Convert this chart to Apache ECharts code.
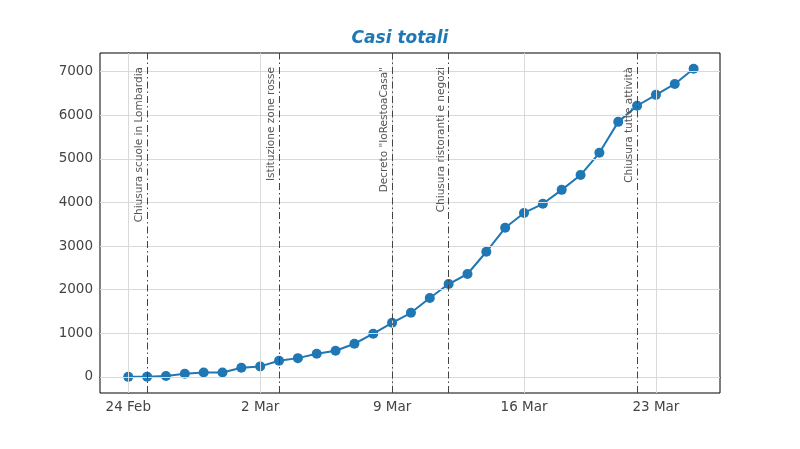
<!DOCTYPE html>
<html><head><meta charset="utf-8">
<script src="https://cdn.jsdelivr.net/npm/echarts@6/dist/echarts.min.js"></script>
</head><body style="margin:0">
<div id="container" style="width:800px;height:449px"></div>
<script>
var dom = document.getElementById("container");
var myChart = echarts.init(dom);

// day 0 = 24 Feb
var days = [];
for (var i = 0; i < 31; i++) days.push(i);
var casi = [0, 5, 20, 70, 100, 100, 210, 240, 370, 430, 530, 600, 760, 990, 1240, 1470,
    1810, 2130, 2360, 2870, 3420, 3760, 3970, 4290, 4630, 5140, 5850, 6220, 6470, 6720, 7070];
var tickDays = [0, 7, 14, 21, 28];
var tickLabels = ['24 Feb', '2 Mar', '9 Mar', '16 Mar', '23 Mar'];
var yTicks = [0, 1000, 2000, 3000, 4000, 5000, 6000, 7000];
var eventi = [
    [1, 'Chiusura scuole in Lombardia'],
    [8, 'Istituzione zone rosse'],
    [14, 'Decreto "IoRestoaCasa"'],
    [17, 'Chiusura ristoranti e negozi'],
    [27, 'Chiusura tutte attività']
];

var gridCol = '#d9d9d9';
var option = {
    title: {
        text: 'Casi totali', left: 'center', top: 25,
        textStyle: { color: '#1f77b4', fontStyle: 'italic', fontWeight: 'bold', fontSize: 17, fontFamily: 'DejaVu Sans' }
    },
    grid: { left: 100, right: 80, top: 53, bottom: 56, show: true, borderColor: '#000', borderWidth: 1 },
    xAxis: {
        type: 'value', min: -1.5, max: 31.4,
        axisLine: { show: true, lineStyle: { color: '#000' } },
        axisTick: { show: true, customValues: tickDays, length: 5, lineStyle: { color: '#000' } },
        axisLabel: {
            customValues: tickDays, color: '#444', fontSize: 13.5, fontFamily: 'DejaVu Sans', margin: 7,
            formatter: function (v) { return tickLabels[tickDays.indexOf(v)]; }
        },
        splitLine: { show: false }
    },
    yAxis: {
        type: 'value', min: -370, max: 7430,
        axisLine: { show: true, lineStyle: { color: '#000' } },
        axisTick: { show: true, customValues: yTicks, length: 5, lineStyle: { color: '#000' } },
        axisLabel: {
            customValues: yTicks, color: '#444', fontSize: 13.5, fontFamily: 'DejaVu Sans', margin: 7,
            formatter: function (v) { return String(v); }
        },
        splitLine: { show: false }
    },
    series: [{
        type: 'line', silent: true, symbol: 'none', data: [],
        markLine: {
            symbol: 'none', silent: true, label: { show: false },
            lineStyle: { color: gridCol, width: 1, type: 'solid' },
            data: tickDays.map(function (d) { return { xAxis: d }; })
                .concat(yTicks.map(function (v) { return { yAxis: v }; }))
        }
    }, {
        type: 'line', silent: true, symbol: 'none', data: [],
        markLine: {
            symbol: 'none', silent: true,
            lineStyle: { color: '#444', width: 1, type: [7, 3, 1.5, 3] },
            label: {
                show: true, position: 'insideEndTop', color: '#555', fontSize: 10.5,
                fontFamily: 'DejaVu Sans', distance: [14, 2],
                formatter: function (p) { return p.name; }
            },
            data: eventi.map(function (e) { return { xAxis: e[0], name: e[1] }; })
        }
    }, {
        type: 'line',
        data: days.map(function (d, i) { return [d, casi[i]]; }),
        symbol: 'circle', symbolSize: 10,
        itemStyle: { color: '#1f77b4' },
        lineStyle: { color: '#1f77b4', width: 2 }
    }]
};
myChart.setOption(option);
</script>
</body></html>
